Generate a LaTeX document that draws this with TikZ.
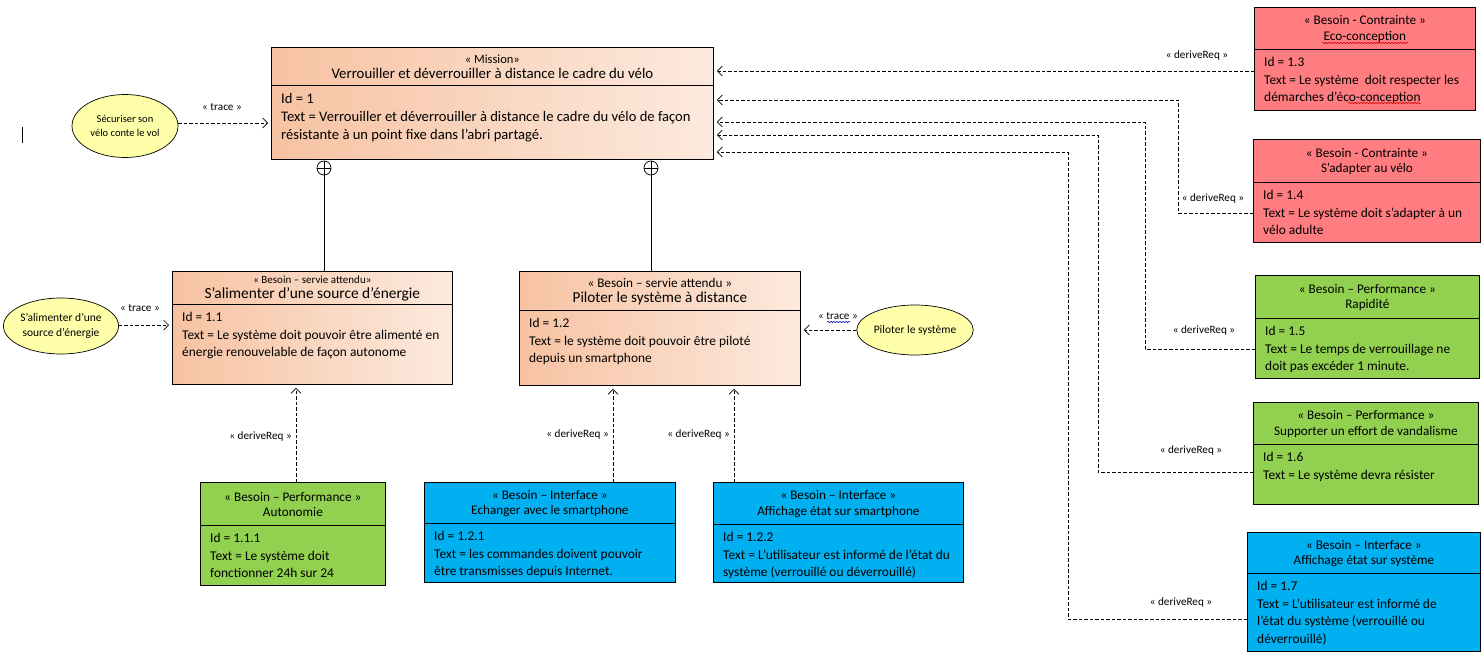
\documentclass[tikz,border=0pt]{standalone}
\usepackage{fontspec}
\setmainfont{Carlito}
\usetikzlibrary{arrows.meta,shapes.geometric,calc,decorations.pathmorphing}

\definecolor{peachA}{RGB}{247,194,162}
\definecolor{peachB}{RGB}{252,234,222}
\definecolor{redreq}{RGB}{255,124,128}
\definecolor{greenreq}{RGB}{146,208,80}
\definecolor{bluereq}{RGB}{0,176,240}
\definecolor{usecasefill}{RGB}{255,255,170}

% name, x, y, width, height, header height, fill, header, body
\newcommand{\reqbox}[9]{%
  \node[reqbox,#7,minimum width=#4pt,minimum height=#5pt,anchor=north west] (#1) at (#2,#3) {};
  \draw[line width=0.8pt] ($(#1.north west)+(0,#6)$) -- ($(#1.north east)+(0,#6)$);
  \node[reqhead] (#1-head) at ($(#1.north)+(0,#6/2+1)$) {#8};
  \node[reqbody, bodyof-#1/.try] (#1-body) at ($(#1.north west)+(10,#6+8)$) {#9};
}

\begin{document}
\begin{tikzpicture}[
          x=1pt, y=-1pt,
          reqbox/.style={draw, line width=0.8pt, inner sep=0pt},
          peach/.style={left color=peachA, right color=peachB},
          reqhead/.style={align=center, inner sep=0pt, font=\fontsize{13.2}{15.5}\selectfont},
          reqbody/.style={align=left, inner sep=0pt, anchor=north west, font=\fontsize{13.4}{17.5}\selectfont},
          bodyof-m/.style={font=\fontsize{14.6}{18}\selectfont},
          usecase/.style={draw, ellipse, fill=usecasefill, line width=0.7pt, inner sep=0pt,
            align=center, font=\fontsize{11.5}{14.5}\selectfont},
          lbl/.style={inner sep=0pt, font=\fontsize{11.2}{12}\selectfont},
          dep/.style={draw, line width=0.7pt, dash pattern=on 3.5pt off 2pt,
            -{Straight Barb[length=5pt,width=10pt]}, shorten >=3pt},
          comp/.style={draw, circle, line width=0.7pt, minimum size=14pt, inner sep=0pt, fill=white},
          squiggle/.style={decorate, decoration={snake, amplitude=0.8pt, segment length=3pt}, line width=0.5pt},
        ]
        \path[fill=white, use as bounding box] (0,0) rectangle (1482,661);

        % mission and first level needs
        \reqbox{m}{271}{47}{442}{112}{38}{peach}
          {{\fontsize{12.5}{15.5}\selectfont « Mission»}\\\fontsize{14.8}{15.5}\selectfont Verrouiller et déverrouiller à distance le cadre du vélo}
          {Id = 1\\Text = Verrouiller et déverrouiller à distance le cadre du vélo de façon\\résistante à un point fixe dans l’abri partagé.}
        \reqbox{b11}{172}{271}{280}{113}{33}{peach}
          {{\fontsize{11}{16}\selectfont « Besoin – servie attendu»}\\\fontsize{15.4}{16}\selectfont S’alimenter d’une source d’énergie}
          {Id = 1.1\\Text = Le système doit pouvoir être alimenté en\\énergie renouvelable de façon autonome}
        \reqbox{b12}{519}{271}{281}{114}{39}{peach}
          {{\fontsize{13.2}{16}\selectfont « Besoin – servie attendu »}\\\fontsize{15.2}{16}\selectfont Piloter le système à distance}
          {Id = 1.2\\Text = le système doit pouvoir être piloté\\depuis un smartphone}

        % second level needs
        \reqbox{b111}{200}{482}{185}{103}{43}{fill=greenreq}
          {« Besoin – Performance »\\Autonomie}
          {Id = 1.1.1\\Text = Le système doit\\fonctionner 24h sur 24}
        \reqbox{b121}{424}{482}{251}{100}{41}{fill=bluereq}
          {« Besoin – Interface »\\Echanger avec le smartphone}
          {Id = 1.2.1\\Text = les commandes doivent pouvoir\\être transmisses depuis Internet.}
        \reqbox{b122}{713}{482}{250}{100}{42}{fill=bluereq}
          {« Besoin – Interface »\\Affichage état sur smartphone}
          {Id = 1.2.2\\Text = L’utilisateur est informé de l’état du\\système (verrouillé ou déverrouillé)}

        % derived needs on the right
        \reqbox{b13}{1254}{7}{221}{103}{42}{fill=redreq}
          {« Besoin - Contrainte »\\Eco-conception}
          {Id = 1.3\\Text = Le système\ \ doit respecter les\\démarches d’éco-conception}
        \reqbox{b14}{1253}{139}{227}{103}{43}{fill=redreq}
          {« Besoin - Contrainte »\\S’adapter au vélo}
          {Id = 1.4\\Text = Le système doit s’adapter à un\\vélo adulte}
        \reqbox{b15}{1255}{275}{224}{103}{43}{fill=greenreq}
          {« Besoin – Performance »\\Rapidité}
          {Id = 1.5\\Text = Le temps de verrouillage ne\\doit pas excéder 1 minute.}
        \reqbox{b16}{1253}{402}{225}{102}{42}{fill=greenreq}
          {« Besoin – Performance »\\Supporter un effort de vandalisme}
          {Id = 1.6\\Text = Le système devra résister}
        \reqbox{b17}{1247}{532}{233}{119}{41}{fill=bluereq}
          {« Besoin – Interface »\\Affichage état sur système}
          {Id = 1.7\\Text = L’utilisateur est informé de\\l’état du système (verrouillé ou\\déverrouillé)}

        % use cases
        \node[usecase, minimum width=106pt, minimum height=63pt, font=\fontsize{10.5}{14.5}\selectfont] (uc1) at (125,126) {Sécuriser son\\vélo conte le vol};
        \node[usecase, minimum width=112pt, minimum height=56pt] (uc2) at (61,326) {S’alimenter d’une\\source d’énergie};
        \node[usecase, minimum width=106pt, minimum height=50pt] (uc3) at (915,330) {Piloter le système};

        % trace links
        \draw[dep] (uc1.east |- 0,123) -- (m.west |- 0,123);
        \node[lbl] (t1) at (222,107) {« trace »};
        \draw[dep] (uc2.east |- 0,325) -- (b11.west |- 0,325);
        \node[lbl] (t2) at (140,308) {« trace »};
        \draw[dep] (uc3.west) -- (b12.east |- uc3.west);
        \node[lbl] (t3) at (838,316) {« trace »};
        \draw[squiggle, blue!70!black] (827,322) -- (850,322);

        % containment
        \node[comp] (c1) at (324,168) {};
        \node[comp] (c2) at (651,168) {};
        \draw[line width=0.7pt] (c1.north) -- (c1.south) (c1.west) -- (c1.east)
          (c2.north) -- (c2.south) (c2.west) -- (c2.east);
        \draw[line width=0.7pt] (c1.south) -- (c1.south |- b11.north);
        \draw[line width=0.7pt] (c2.south) -- (c2.south |- b12.north);

        % deriveReq links below
        \coordinate (a111) at ($(b111.north west)+(96,0)$);
        \coordinate (a121) at ($(b121.north west)+(189,0)$);
        \coordinate (a122) at ($(b122.north west)+(21,0)$);
        \draw[dep] (a111) -- (a111 |- b11.south);
        \draw[dep] (a121) -- (a121 |- b12.south);
        \draw[dep] (a122) -- (a122 |- b12.south);
        \node[lbl, anchor=east] (d111) at (292,437) {« deriveReq »};
        \node[lbl, anchor=east] (d121) at (609,435) {« deriveReq »};
        \node[lbl, anchor=east] (d122) at (730,435) {« deriveReq »};

        % deriveReq links on the right
        \draw[dep] (b13.west |- 0,71) -- (m.east |- 0,71);
        \draw[dep] (b14.west |- 0,213) -- ++(-75,0) |- (m.east |- 0,100);
        \draw[dep] (b15.west |- 0,349) -- ++(-110,0) |- (m.east |- 0,122);
        \draw[dep] (b16.west |- 0,472) -- ++(-155,0) |- (m.east |- 0,135);
        \draw[dep] (b17.west |- 0,619) -- ++(-179,0) |- (m.east |- 0,152);
        \node[lbl] (d13) at (1197,56) {« deriveReq »};
        \node[lbl] (d14) at (1213,199) {« deriveReq »};
        \node[lbl] (d15) at (1204,331) {« deriveReq »};
        \node[lbl] (d16) at (1191,451) {« deriveReq »};
        \node[lbl] (d17) at (1181,603) {« deriveReq »};

        % spelling marks
        \draw[squiggle, red!80!black] (1322,43) -- (1408,43);
        \draw[squiggle, red!80!black] (1348,103) -- (1421,103);
        \draw[line width=0.8pt] (22,127) -- (22,143);
        \end{tikzpicture}
\end{document}
